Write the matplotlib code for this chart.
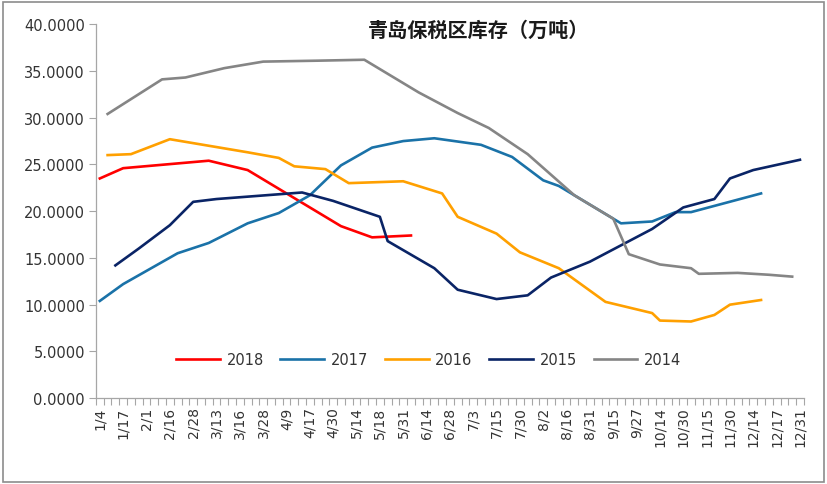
import matplotlib
matplotlib.use("Agg")
import matplotlib.pyplot as plt
from matplotlib.patches import Rectangle
import numpy as np

# Category axis: 91 dates, label on every 3rd
n_categories = 91
tick_labels = ["1/4", "1/17", "2/1", "2/16", "2/28", "3/13", "3/16", "3/28", "4/9", "4/17",
               "4/30", "5/14", "5/18", "5/31", "6/14", "6/28", "7/3", "7/15", "7/30", "8/2",
               "8/16", "8/31", "9/15", "9/27", "10/14", "10/30", "11/15", "11/30", "12/14",
               "12/17", "12/31"]

x2018 = [0, 3, 14, 19, 31, 35, 40]
y2018 = [23.5, 24.6, 25.4, 24.4, 18.4, 17.2, 17.4]

x2017 = [0, 3, 10, 14, 19, 23, 27, 31, 35, 39, 43, 49, 53, 57, 59, 67, 71, 74, 76, 85]
y2017 = [10.4, 12.2, 15.5, 16.6, 18.7, 19.8, 21.7, 24.9, 26.8, 27.5, 27.8, 27.1, 25.8,
         23.3, 22.7, 18.7, 18.9, 19.9, 19.9, 21.9]

x2016 = [1, 4, 9, 14, 19, 23, 25, 29, 32, 39, 44, 46, 51, 54, 59, 65, 71, 72, 76, 79, 81, 85]
y2016 = [26.0, 26.1, 27.7, 27.0, 26.3, 25.7, 24.8, 24.5, 23.0, 23.2, 21.9, 19.4, 17.6,
         15.6, 13.9, 10.3, 9.1, 8.3, 8.2, 8.9, 10.0, 10.5]

x2015 = [2, 5, 9, 12, 15, 26, 30, 36, 37, 43, 46, 51, 55, 58, 63, 71, 75, 79, 81, 84, 90]
y2015 = [14.2, 16.0, 18.5, 21.0, 21.3, 22.0, 21.1, 19.4, 16.8, 13.9, 11.6, 10.6, 11.0,
         12.9, 14.6, 18.1, 20.4, 21.3, 23.5, 24.4, 25.5]

x2014 = [1, 8, 11, 16, 21, 28, 34, 41, 46, 50, 55, 61, 66, 68, 72, 76, 77, 82, 86, 89]
y2014 = [30.4, 34.1, 34.3, 35.3, 36.0, 36.1, 36.2, 32.7, 30.5, 28.9, 26.1, 21.7, 19.2,
         15.4, 14.3, 13.9, 13.3, 13.4, 13.2, 13.0]

series = [("2018", x2018, y2018, "#ff0000"),
          ("2017", x2017, y2017, "#1a72a8"),
          ("2016", x2016, y2016, "#ffa000"),
          ("2015", x2015, y2015, "#0a2466"),
          ("2014", x2014, y2014, "#858585")]

plt.rcParams['font.family'] = ['DejaVu Sans']
fig = plt.figure(figsize=(8.27, 4.85), dpi=100)
ax = fig.add_axes([0.116, 0.177, 0.856, 0.771])

for name, xs, ys, c in series:
    ax.plot(xs, ys, color=c, lw=1.9, label=name, solid_joinstyle='round')

ax.set_xlim(-0.5, n_categories - 0.5)
ax.set_ylim(0, 40)
ax.set_yticks(np.arange(0, 40.01, 5))
ax.set_yticklabels([f"{v:.4f}" for v in np.arange(0, 40.01, 5)])

ax.set_xticks(np.arange(0, n_categories, 3))
ax.set_xticklabels(tick_labels, rotation=90)
ax.set_xticks(np.arange(-0.5, n_categories, 1), minor=True)
ax.tick_params(axis='x', which='major', length=0, pad=6, labelsize=10, labelcolor='#333333')
ax.tick_params(axis='x', which='minor', length=5, color='#a6a6a6', width=0.8)
ax.tick_params(axis='y', which='major', length=5, color='#a6a6a6', width=0.8,
               labelsize=10.5, labelcolor='#333333', pad=3)

for s in ['top', 'right']:
    ax.spines[s].set_visible(False)
for s in ['left', 'bottom']:
    ax.spines[s].set_color('#a6a6a6')
    ax.spines[s].set_linewidth(0.9)

leg = ax.legend(loc='center', bbox_to_anchor=(0.47, 0.104), ncol=5, frameon=False,
                fontsize=10.5, handlelength=3.0, handletextpad=0.45, columnspacing=1.15)
for t in leg.get_texts():
    t.set_color('#333333')

fig.text(0.5785, 0.937, "青岛保税区库存（万吨）", ha='center', va='center',
         fontsize=14.5, fontweight='bold', family=['Noto Sans CJK SC', 'DejaVu Sans'],
         color='#1a1a1a')

fig.patches.append(Rectangle((0.004, 0.004), 0.992, 0.99, transform=fig.transFigure,
                             fill=False, edgecolor='#8c8c8c', lw=1.2))

fig.savefig("out.png", dpi=100)
